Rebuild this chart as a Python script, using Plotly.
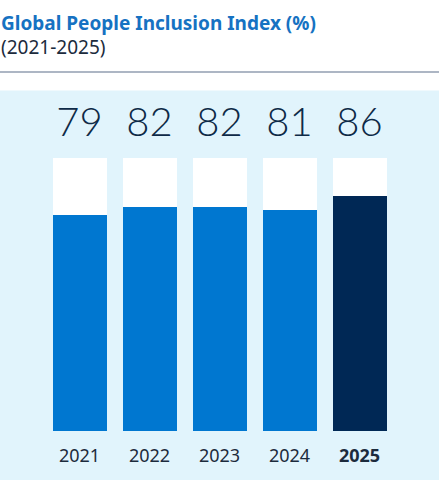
import plotly.graph_objects as go

# chart data
years = ["2021", "2022", "2023", "2024", "2025"]
scores = [79, 82, 82, 81, 86]
full_scale = [100, 100, 100, 100, 100]
year_labels = ["2021", "2022", "2023", "2024", "<b>2025</b>"]

title_text = "<b>Global People Inclusion Index (%)</b>"
subtitle_text = "(2021-2025)"

BLUE = "#0077D0"
DARK = "#002855"
BG = "#E1F4FC"
NAVY_TEXT = "#0E2A47"

W, H = 439, 480
Y_TOP = 125          # axis headroom so the value labels sit inside the range
LABEL_Y = 111.4      # where the big numbers sit, in axis units


def px_to_paper_y(p):
    return (H - p) / H


bar_colors = [BLUE] * (len(years) - 1) + [DARK]

fig = go.Figure()

# white "100%" track behind each bar
fig.add_trace(go.Bar(
    x=years,
    y=full_scale,
    marker=dict(color="white", line=dict(width=0)),
    width=0.76,
    hoverinfo="skip",
    showlegend=False,
))

fig.add_trace(go.Bar(
    x=years,
    y=scores,
    marker=dict(color=bar_colors, line=dict(width=0)),
    width=0.76,
    showlegend=False,
))

# big value labels above the tracks
fig.add_trace(go.Scatter(
    x=years,
    y=[LABEL_Y] * len(years),
    mode="text",
    text=[str(v) for v in scores],
    textposition="middle center",
    textfont=dict(family="Lato", size=40, color=NAVY_TEXT, weight=300),
    hoverinfo="skip",
    showlegend=False,
))

# title block
fig.add_annotation(
    x=0, y=px_to_paper_y(23), xref="paper", yref="paper",
    xanchor="left", yanchor="middle", xshift=-1,
    text=title_text, showarrow=False,
    font=dict(family="Noto Sans", size=19, color="#1672C2"),
)
fig.add_annotation(
    x=0, y=px_to_paper_y(47), xref="paper", yref="paper",
    xanchor="left", yanchor="middle", xshift=-1,
    text=subtitle_text, showarrow=False,
    font=dict(family="Noto Sans", size=19, color="#1C2B3D"),
)

# light blue panel and divider line
fig.add_shape(
    type="rect", xref="paper", yref="paper",
    x0=0, x1=1, y0=0, y1=px_to_paper_y(90.5),
    fillcolor=BG, line=dict(width=0), layer="below",
)
fig.add_shape(
    type="line", xref="paper", yref="paper",
    x0=0, x1=1, y0=px_to_paper_y(72), y1=px_to_paper_y(72),
    line=dict(color="#5C6F89", width=1.2),
)

fig.update_layout(
    width=W,
    height=H,
    margin=dict(l=0, r=0, t=0, b=0),
    paper_bgcolor="white",
    plot_bgcolor="rgba(0,0,0,0)",
    barmode="overlay",
    bargap=0,
    font=dict(family="Noto Sans"),
)

fig.update_xaxes(
    domain=[44.5 / W, 394.5 / W],
    range=[-0.5, 4.5],
    tickmode="array",
    tickvals=years,
    ticktext=year_labels,
    ticks="",
    ticklabelstandoff=12,
    tickfont=dict(family="Noto Sans", size=18, color="#1C2B3D"),
    showgrid=False,
    zeroline=False,
    showline=False,
    fixedrange=True,
)
fig.update_yaxes(
    domain=[px_to_paper_y(431), px_to_paper_y(431 - Y_TOP * 2.74)],
    range=[0, Y_TOP],
    visible=False,
    fixedrange=True,
)

fig.write_html(
    "out.html",
    config={"displayModeBar": False},
    post_script="document.body.style.margin='0';",
)
